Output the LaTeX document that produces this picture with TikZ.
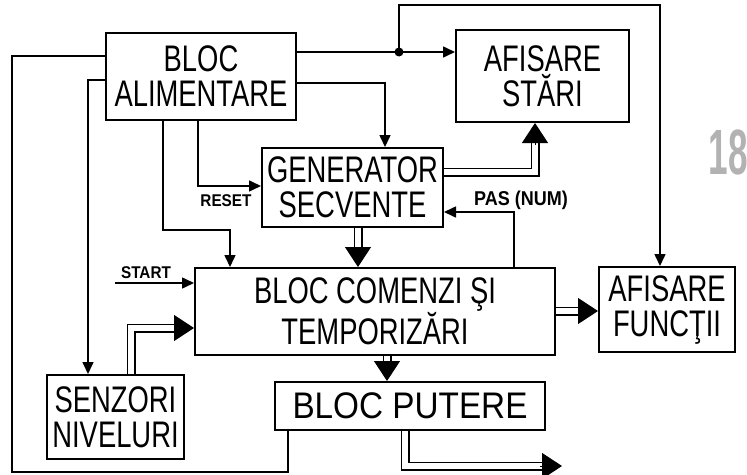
\documentclass[tikz,border=0pt]{standalone}
\usepackage{fontspec}
\setmainfont{Liberation Sans}
\newfontfamily\hand[FakeStretch=0.74]{Liberation Sans}
\newfontfamily\handwide[FakeStretch=0.9]{Liberation Sans}
\newfontfamily\pagenum[FakeStretch=0.55]{Liberation Sans}
\usetikzlibrary{arrows.meta,calc}
\begin{document}
\begin{tikzpicture}[x=1pt,y=-1pt,
  box/.style={draw, line width=2pt, inner sep=0pt, align=center,
    font=\hand\fontsize{37}{35}\selectfont},
  wire/.style={line width=1.6pt},
  arr/.style={wire, -{Triangle[length=12pt,width=11pt]}},
  bus/.style={double, double distance=6pt, line width=1.5pt, shorten >=18pt},
  bustip/.style={-{Triangle[length=20pt,width=26pt]}, line width=1pt},
  lbl/.style={font=\handwide\bfseries\fontsize{17}{17}\selectfont, inner sep=0pt}
]
\useasboundingbox (0,0) rectangle (747,474);

% blocks
\node[box, minimum width=190pt, minimum height=87pt] (ali) at (201,76.5) {BLOC\\ALIMENTARE};
\node[box, minimum width=173pt, minimum height=92pt] (stari) at (542.5,76) {AFISARE\\STĂRI};
\node[box, minimum width=181pt, minimum height=79pt] (gen) at (352.5,187.5) {GENERATOR\\SECVENTE};
\node[box, minimum width=360pt, minimum height=87pt] (com) at (375,311.5) {BLOC COMENZI ŞI\\TEMPORIZĂRI};
\node[box, minimum width=136pt, minimum height=85pt] (fun) at (667,309.5) {AFISARE\\FUNCŢII};
\node[box, minimum width=137pt, minimum height=84pt] (sen) at (115.5,417) {SENZORI\\NIVELURI};
\node[box, minimum width=270pt, minimum height=48pt,
  font=\handwide\fontsize{37}{35}\selectfont] (put) at (410,406) {BLOC PUTERE};

% page number
\node[font=\pagenum\bfseries\fontsize{64}{64}\selectfont, text=black!30, inner sep=0pt] (pg) at (728,152) {18};

% free ends
\coordinate (tr) at (660,5);
\coordinate (startin) at (115,283);
\coordinate (out) at (562,466);
\node[circle, fill, inner sep=0pt, minimum size=9pt] (dot) at (399,52) {};

% outer loop
\draw[wire] (put.south -| 288,0) |- (12,472) |- (ali.west |- 0,56);
% alimentare -> senzori
\draw[arr] (ali.west |- 0,80) -| (sen.north -| 88,0);
% alimentare -> comenzi
\draw[arr] (ali.south -| 163,0) |- (230,230) -- (com.north -| 230,0);
% alimentare -> generator (RESET)
\draw[arr] (ali.south -| 198,0) |- (gen.west |- 0,186);
\node[lbl] (reset) at (226,201) {RESET};
% alimentare -> stari, and to functii
\draw[arr] (ali.east |- dot) -- (stari.west |- dot);
\draw[arr] (dot.center) |- (tr) -- (fun.north -| tr);
% alimentare -> generator (top)
\draw[arr] (ali.east |- 0,83) -| (gen.north -| 385,0);
% PAS (NUM)
\draw[arr] (com.north -| 514,0) |- (gen.east |- 0,212);
\node[lbl, font=\handwide\bfseries\fontsize{20}{20}\selectfont] (pas) at (521,200) {PAS (NUM)};
% START
\draw[arr] (startin) -- (com.west |- startin);
\node[lbl] (start) at (146,273) {START};

% buses
\draw[bus] (gen.east |- 0,172) -| (stari.south -| 535,0);
\draw[bustip] ($(stari.south -| 535,0)+(0,22)$) -- (stari.south -| 535,0);

\draw[bus] (gen.south -| 358,0) -- (com.north -| 358,0);
\draw[bustip] ($(com.north -| 358,0)+(0,-20)$) -- (com.north -| 358,0);

\draw[bus] (sen.north -| 131,0) |- (com.west |- 0,328);
\draw[bustip] ($(com.west |- 0,328)+(-20,0)$) -- (com.west |- 0,328);

\draw[bus] (com.east |- 0,311) -- (fun.west |- 0,311);
\draw[bustip] ($(fun.west |- 0,311)+(-20,0)$) -- (fun.west |- 0,311);

\draw[bus] (com.south -| 387,0) -- (put.north -| 387,0);
\draw[bustip] ($(put.north -| 387,0)+(0,-20)$) -- (put.north -| 387,0);

\draw[bus] (put.south -| 405,0) |- (out);
\draw[bustip] ($(out)+(-22,0)$) -- (out);
\end{tikzpicture}
\end{document}
